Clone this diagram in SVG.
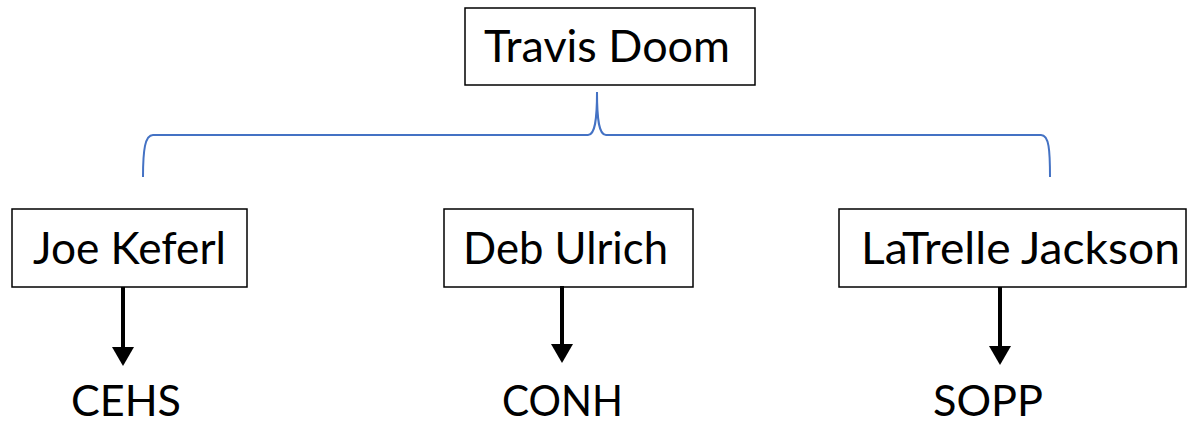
<svg xmlns="http://www.w3.org/2000/svg" width="1189" height="423" viewBox="0 0 1189 423">
<style>
.box{fill:#fff;stroke:#000;stroke-width:1.5}
.t{font-family:Lato,"Open Sans","Liberation Sans",sans-serif;font-size:45px;fill:#000}
.s{font-size:43px}
.arr{stroke:#000;stroke-width:4;fill:none}
.brace{stroke:#4472C4;stroke-width:2;fill:none}
</style>
<defs>
<marker id="ah" markerUnits="userSpaceOnUse" markerWidth="19" markerHeight="22" refX="2" refY="11" orient="auto" viewBox="0 0 19 22">
<path d="M0,0 L19,11 L0,22 Z" fill="#000"/>
</marker>
</defs>
<g id="travis">
<rect class="box" x="465" y="8" width="290" height="77"/>
<text class="t" x="484" y="62" textLength="246" lengthAdjust="spacingAndGlyphs">Travis Doom</text>
</g>
<g id="joe">
<rect class="box" x="12" y="209" width="235" height="78"/>
<text class="t" x="33" y="264" textLength="193" lengthAdjust="spacingAndGlyphs">Joe Keferl</text>
</g>
<g id="deb">
<rect class="box" x="444" y="209" width="249" height="78"/>
<text class="t" x="463" y="264" textLength="205" lengthAdjust="spacingAndGlyphs">Deb Ulrich</text>
</g>
<g id="latrelle">
<rect class="box" x="839" y="209" width="347" height="78"/>
<text class="t" x="861" y="264" textLength="319" lengthAdjust="spacingAndGlyphs">LaTrelle Jackson</text>
</g>
<g id="cehs"><text class="t s" x="71" y="416" textLength="110" lengthAdjust="spacingAndGlyphs">CEHS</text></g>
<g id="conh"><text class="t s" x="502" y="416" textLength="121" lengthAdjust="spacingAndGlyphs">CONH</text></g>
<g id="sopp"><text class="t s" x="933" y="416" textLength="110" lengthAdjust="spacingAndGlyphs">SOPP</text></g>
<g id="connectors">
<path class="brace" d="M143,177 C143,150 145,135 153,135 L588,135 C595,135 597,120 597,92 C597,120 599,135 606,135 L1041,135 C1049,135 1050,150 1050,177"/>
<line class="arr" x1="123" y1="287" x2="123" y2="349" marker-end="url(#ah)"/>
<line class="arr" x1="562" y1="286" x2="562" y2="346" marker-end="url(#ah)"/>
<line class="arr" x1="1000" y1="287" x2="1000" y2="348" marker-end="url(#ah)"/>
</g>
</svg>
